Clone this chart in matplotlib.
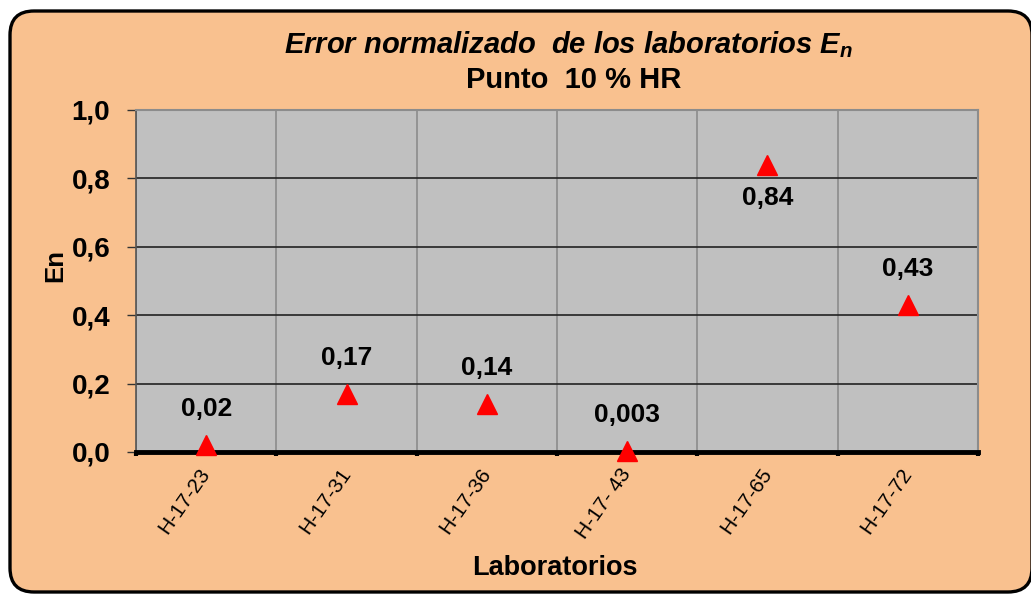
import numpy as np
import matplotlib
matplotlib.use("Agg")
import matplotlib.pyplot as plt
from matplotlib.patches import FancyBboxPatch
from matplotlib.transforms import IdentityTransform

labs = ["H-17-23", "H-17-31", "H-17-36", "H-17- 43", "H-17-65", "H-17-72"]
en_vals = [0.02, 0.17, 0.14, 0.003, 0.84, 0.43]
en_text = ["0,02", "0,17", "0,14", "0,003", "0,84", "0,43"]
label_below = [False, False, False, False, True, False]
yticks = [0.0, 0.2, 0.4, 0.6, 0.8, 1.0]
ytick_text = ["0,0", "0,2", "0,4", "0,6", "0,8", "1,0"]

plt.rcParams["font.family"] = ["Liberation Sans", "DejaVu Sans"]
plt.rcParams["mathtext.fontset"] = "custom"
plt.rcParams["mathtext.it"] = "Liberation Sans:italic:bold"
plt.rcParams["mathtext.rm"] = "Liberation Sans:bold"

W, H = 1031, 595
bg = "#F9C18F"
fig = plt.figure(figsize=(W / 100, H / 100), dpi=100)
fig.patch.set_facecolor("white")

# rounded frame (pixel coords, origin bottom-left); right edge runs off the image
frame = FancyBboxPatch((10, 3), 1022, 581,
                       boxstyle="round,pad=0,rounding_size=24",
                       transform=IdentityTransform(), facecolor=bg,
                       edgecolor="black", linewidth=2.4, zorder=-5)
fig.add_artist(frame)

ax = fig.add_axes([136 / W, 1 - 452 / H, (978 - 136) / W, (452 - 110) / H])
ax.set_facecolor("#C0C0C0")

x = np.arange(len(labs))
ax.plot(x, en_vals, linestyle="none", marker="^", color="red", markersize=14, zorder=5, clip_on=False)

for xi, v, t, below in zip(x, en_vals, en_text, label_below):
    off = -33 if below else 36
    ax.annotate(t, (xi, v), xytext=(0, off), textcoords="offset pixels",
                ha="center", va="center", fontsize=19, fontweight="bold")

ax.set_xlim(-0.5, len(labs) - 0.5)
ax.set_ylim(0, 1.0)

ax.set_yticks(yticks)
ax.set_yticklabels(ytick_text, fontsize=20, fontweight="bold")
ax.set_xticks(x)
ax.set_xticklabels(labs, rotation=55, ha="right", va="center", fontsize=15, rotation_mode="anchor")
ax.tick_params(axis="x", length=0, pad=13)
ax.set_xticks(np.arange(-0.5, len(labs)), minor=True)
ax.tick_params(axis="x", which="minor", length=3, width=3, color="black")
ax.tick_params(axis="y", length=6.5, width=1, color="#333333", pad=12)

for yv in yticks[1:]:
    ax.axhline(yv, color="#222222", linewidth=1.2, zorder=1)
ax.grid(True, axis="x", which="minor", color="#8C8C8C", linewidth=1.2, zorder=1)
ax.set_axisbelow(True)

for s in ["top", "right"]:
    ax.spines[s].set_color("#8C8C8C")
    ax.spines[s].set_linewidth(1.5)
ax.spines["left"].set_color("#555555")
ax.spines["left"].set_linewidth(1.2)
ax.spines["bottom"].set_color("black")
ax.spines["bottom"].set_linewidth(3.5)

fig.text(555 / W, 1 - 568 / H, "Laboratorios", ha="center", va="center",
         fontsize=19.5, fontweight="bold")
fig.text(55 / W, 1 - 266 / H, "En", rotation=90, ha="center", va="center",
         fontsize=18.5, fontweight="bold")

fig.text(568 / W, 1 - 53 / H, r"Error normalizado  de los laboratorios $E_n$",
         ha="center", va="baseline", fontsize=21, fontweight="bold", style="italic")
fig.text(574 / W, 1 - 88 / H, "Punto  10 % HR", ha="center", va="baseline",
         fontsize=21, fontweight="bold")

fig.savefig("out.png", dpi=100, facecolor="white")
